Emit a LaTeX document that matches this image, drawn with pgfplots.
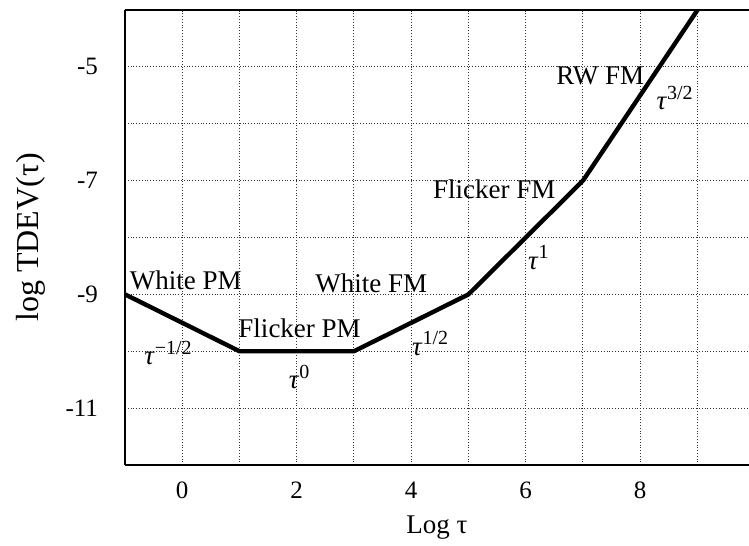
\documentclass[border=0pt]{standalone}
\usepackage{fontspec}
\setmainfont{Liberation Serif}
\usepackage{pgfplots}
\pgfplotsset{compat=1.18}
\newcommand{\lbl}{\fontsize{13.5}{16}\selectfont}
\newcommand{\tu}[1]{\textit{τ}\raisebox{0.85ex}{\fontsize{10}{11}\selectfont #1}}
\begin{document}
\begin{tikzpicture}
\begin{axis}[
  scale only axis, width=312pt, height=227.5pt,
  xmin=-1, xmax=9.9, ymin=-12, ymax=-4,
  axis x line*=box, axis y line*=left,
  xtick={0,2,4,6,8}, xticklabels={0,2,4,6,8},
  minor xtick={-1,1,3,5,7,9},
  ytick={-11,-9,-7,-5}, yticklabels={-11,-9,-7,-5},
  minor ytick={-10,-8,-6},
  grid=both,
  major grid style={densely dotted, black!80, line width=0.5pt},
  minor grid style={densely dotted, black!80, line width=0.5pt},
  major tick length=0pt, minor tick length=0pt,
  tick label style={font=\fontsize{12.5}{14}\selectfont},
  yticklabel style={xshift=-10pt},
  xticklabel style={yshift=-5pt},
  axis line style={line width=1pt},
  xlabel={Log τ}, ylabel={log TDEV(τ)},
  xlabel style={at={(axis description cs:0.5,-0.1385)}, anchor=center, font=\lbl},
  ylabel style={at={(axis description cs:-0.1506,0.5)}, anchor=center, font=\fontsize{16}{19}\selectfont},
  clip=false,
]
\addplot[black, line width=2.2pt] coordinates {(-1,-9) (1,-10) (3,-10) (5,-9) (7,-7) (9,-4)};
\node[font=\lbl] at (axis cs:0.06,-8.75) {White PM};
\node[font=\lbl] at (axis cs:2.05,-9.6) {Flicker PM};
\node[font=\lbl] at (axis cs:3.3,-8.8) {White FM};
\node[font=\lbl] at (axis cs:5.45,-7.15) {Flicker FM};
\node[font=\lbl] at (axis cs:7.3,-5.15) {RW FM};
\node[font=\lbl] at (axis cs:-0.25,-10.03) {\tu{−1/2}};
\node[font=\lbl] at (axis cs:2.04,-10.45) {\tu{0}};
\node[font=\lbl] at (axis cs:4.33,-9.86) {\tu{1/2}};
\node[font=\lbl] at (axis cs:6.22,-8.35) {\tu{1}};
\node[font=\lbl] at (axis cs:8.6,-5.55) {\tu{3/2}};
\coordinate (bl) at (rel axis cs:0,0);
\coordinate (tr) at (rel axis cs:1,1);
\end{axis}
\pgfresetboundingbox
\path ([shift={(-62.5pt,-40.5pt)}]bl) rectangle ([shift={(0pt,5pt)}]tr);
\end{tikzpicture}
\end{document}
